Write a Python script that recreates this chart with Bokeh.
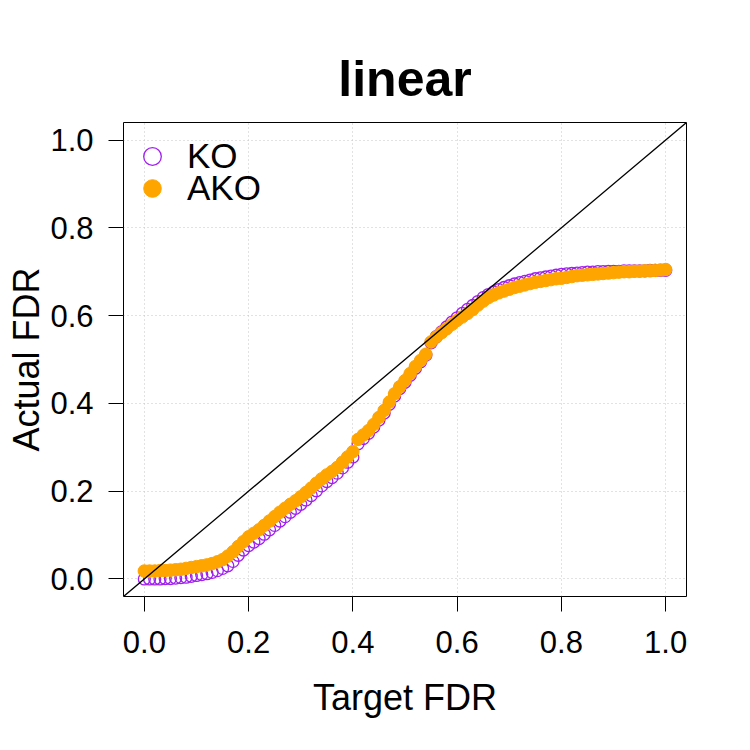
from bokeh.plotting import figure
from bokeh.models import (Range1d, FixedTicker, NumeralTickFormatter, Slope,
                          Legend, LegendItem, ColumnDataSource)
from bokeh.embed import file_html
from bokeh.resources import INLINE

# Target FDR levels (0.00 .. 1.00 in steps of 0.01)
target_fdr = [
    0.00, 0.01, 0.02, 0.03, 0.04, 0.05, 0.06, 0.07, 0.08, 0.09,
    0.10, 0.11, 0.12, 0.13, 0.14, 0.15, 0.16, 0.17, 0.18, 0.19,
    0.20, 0.21, 0.22, 0.23, 0.24, 0.25, 0.26, 0.27, 0.28, 0.29,
    0.30, 0.31, 0.32, 0.33, 0.34, 0.35, 0.36, 0.37, 0.38, 0.39,
    0.40, 0.41, 0.42, 0.43, 0.44, 0.45, 0.46, 0.47, 0.48, 0.49,
    0.50, 0.51, 0.52, 0.53, 0.54, 0.55, 0.56, 0.57, 0.58, 0.59,
    0.60, 0.61, 0.62, 0.63, 0.64, 0.65, 0.66, 0.67, 0.68, 0.69,
    0.70, 0.71, 0.72, 0.73, 0.74, 0.75, 0.76, 0.77, 0.78, 0.79,
    0.80, 0.81, 0.82, 0.83, 0.84, 0.85, 0.86, 0.87, 0.88, 0.89,
    0.90, 0.91, 0.92, 0.93, 0.94, 0.95, 0.96, 0.97, 0.98, 0.99,
    1.00,
]

# Observed FDR, knockoff filter
ko_fdr = [
    0.000, 0.000, 0.000, 0.000, 0.001, 0.001, 0.002, 0.003, 0.004, 0.006,
    0.008, 0.010, 0.012, 0.015, 0.019, 0.024, 0.030, 0.040, 0.054, 0.066,
    0.076, 0.084, 0.092, 0.102, 0.112, 0.122, 0.132, 0.142, 0.152, 0.161,
    0.170, 0.180, 0.190, 0.201, 0.212, 0.222, 0.231, 0.241, 0.253, 0.266,
    0.278, 0.308, 0.320, 0.332, 0.346, 0.362, 0.378, 0.398, 0.417, 0.434,
    0.448, 0.464, 0.480, 0.495, 0.510, 0.538, 0.552, 0.563, 0.574, 0.585,
    0.595, 0.605, 0.614, 0.623, 0.632, 0.641, 0.648, 0.654, 0.659, 0.664,
    0.668, 0.672, 0.675, 0.678, 0.681, 0.684, 0.686, 0.688, 0.690, 0.692,
    0.694, 0.695, 0.696, 0.697, 0.698, 0.699, 0.699, 0.700, 0.700, 0.701,
    0.701, 0.701, 0.702, 0.702, 0.702, 0.702, 0.702, 0.703, 0.703, 0.703,
    0.703,
]

# Observed FDR, aggregated knockoffs
ako_fdr = [
    0.018, 0.018, 0.018, 0.019, 0.019, 0.020, 0.021, 0.022, 0.024, 0.026,
    0.028, 0.030, 0.032, 0.035, 0.039, 0.044, 0.052, 0.062, 0.074, 0.085,
    0.096, 0.104, 0.112, 0.122, 0.132, 0.142, 0.152, 0.161, 0.170, 0.178,
    0.187, 0.197, 0.207, 0.218, 0.228, 0.237, 0.245, 0.254, 0.266, 0.278,
    0.290, 0.318, 0.328, 0.338, 0.352, 0.368, 0.384, 0.403, 0.422, 0.438,
    0.452, 0.468, 0.484, 0.498, 0.512, 0.540, 0.551, 0.561, 0.570, 0.580,
    0.589, 0.597, 0.605, 0.614, 0.624, 0.633, 0.641, 0.647, 0.652, 0.656,
    0.660, 0.664, 0.667, 0.670, 0.673, 0.676, 0.678, 0.680, 0.682, 0.684,
    0.685, 0.687, 0.689, 0.691, 0.692, 0.693, 0.694, 0.695, 0.696, 0.697,
    0.698, 0.699, 0.700, 0.700, 0.701, 0.701, 0.702, 0.702, 0.703, 0.704,
    0.705,
]

axis_ticks = [0.0, 0.2, 0.4, 0.6, 0.8, 1.0]

FONT = "Liberation Sans"
PURPLE = "#A020F0"
ORANGE = "#FFA500"

src = ColumnDataSource(dict(target=target_fdr, ko=ko_fdr, ako=ako_fdr))

p = figure(
    frame_width=563, frame_height=474,
    min_border_left=123, min_border_right=64,
    min_border_top=122, min_border_bottom=154,
    x_range=Range1d(-0.04, 1.04), y_range=Range1d(-0.04, 1.04),
    output_backend="svg", toolbar_location=None,
    title="linear",
)
p.background_fill_color = "white"
p.border_fill_color = "white"
p.outline_line_color = "black"
p.outline_line_width = 1

# title
p.title.align = "center"
p.title.text_font = FONT
p.title.text_font_size = "50px"
p.title.text_font_style = "bold"
p.title.text_color = "black"
p.title.standoff = 31

# axes
for ax in (p.xaxis[0], p.yaxis[0]):
    ax.ticker = FixedTicker(ticks=axis_ticks)
    ax.formatter = NumeralTickFormatter(format="0.0")
    ax.axis_line_color = None
    ax.major_tick_line_color = "black"
    ax.major_tick_line_width = 1
    ax.major_tick_out = 15
    ax.major_tick_in = 0
    ax.minor_tick_line_color = None
    ax.major_label_text_font = FONT
    ax.major_label_text_font_size = "31px"
    ax.major_label_text_color = "black"
    ax.axis_label_text_font = FONT
    ax.axis_label_text_font_size = "36px"
    ax.axis_label_text_font_style = "normal"
    ax.axis_label_text_color = "black"

p.xaxis.axis_label = "Target FDR"
p.yaxis.axis_label = "Actual FDR"
p.xaxis.major_label_standoff = 19
p.yaxis.major_label_standoff = 15
p.xaxis.axis_label_standoff = 21
p.yaxis.axis_label_standoff = 0

# dotted reference grid
for g in (p.xgrid[0], p.ygrid[0]):
    g.ticker = FixedTicker(ticks=axis_ticks)
    g.grid_line_color = "#C4C4C4"
    g.grid_line_dash = "1 3"
    g.grid_line_width = 1

# identity line
p.add_layout(Slope(gradient=1, y_intercept=0, line_color="black", line_width=1.3))

ko_r = p.scatter("target", "ko", source=src, size=12, marker="circle",
                 fill_color=None, line_color=PURPLE, line_width=1.3)
ako_r = p.scatter("target", "ako", source=src, size=12.5, marker="circle",
                  fill_color=ORANGE, line_color=ORANGE, line_width=1)

# one legend box per entry so each row can be placed on its own
legend_style = dict(
    orientation="vertical",
    background_fill_alpha=0, border_line_color=None,
    padding=0, margin=0, spacing=0,
    glyph_width=44, glyph_height=44, label_height=44,
    label_standoff=13,
    label_text_font=FONT, label_text_font_size="35px",
    label_text_color="black",
)
p.add_layout(Legend(items=[LegendItem(label="KO", renderers=[ko_r])],
                    location=(7, 418), **legend_style))
p.add_layout(Legend(items=[LegendItem(label="AKO", renderers=[ako_r])],
                    location=(7, 386), **legend_style))

open("out.html", "w").write(file_html(p, INLINE))
